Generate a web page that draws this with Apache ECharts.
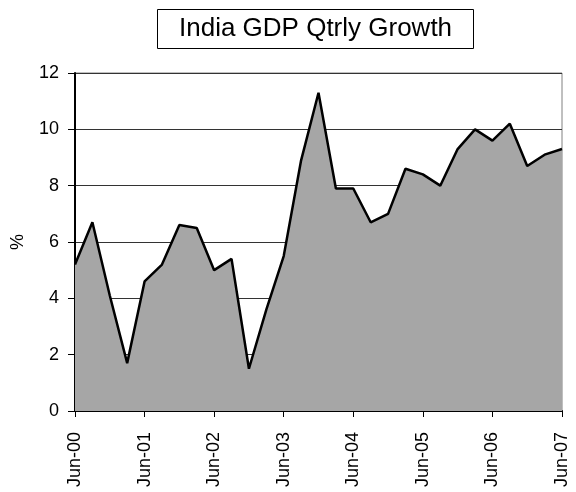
<!DOCTYPE html>
<html>
<head>
<meta charset="utf-8">
<script src="https://cdn.jsdelivr.net/npm/echarts@6/dist/echarts.min.js"></script>
<style>
  html, body { margin: 0; padding: 0; background: #fff; }
  #chart { width: 576px; height: 492px; }
</style>
</head>
<body>
<div id="chart"></div>
<script>
// Quarterly periods, Jun-2000 to Jun-2007
const quarters = [
  'Jun-00', 'Sep-00', 'Dec-00', 'Mar-01',
  'Jun-01', 'Sep-01', 'Dec-01', 'Mar-02',
  'Jun-02', 'Sep-02', 'Dec-02', 'Mar-03',
  'Jun-03', 'Sep-03', 'Dec-03', 'Mar-04',
  'Jun-04', 'Sep-04', 'Dec-04', 'Mar-05',
  'Jun-05', 'Sep-05', 'Dec-05', 'Mar-06',
  'Jun-06', 'Sep-06', 'Dec-06', 'Mar-07',
  'Jun-07'
];

// Year-on-year GDP growth, %
const growth = [
  5.2, 6.7, 4.1, 1.7,
  4.6, 5.2, 6.6, 6.5,
  5.0, 5.4, 1.5, 3.6,
  5.5, 8.9, 11.3, 7.9,
  7.9, 6.7, 7.0, 8.6,
  8.4, 8.0, 9.3, 10.0,
  9.6, 10.2, 8.7, 9.1,
  9.3
];

const yTicks = { min: 0, max: 12, interval: 2 };

const chart = echarts.init(document.getElementById('chart'), null, { renderer: 'canvas' });

const font = 'Liberation Sans, Arial, sans-serif';

chart.setOption({
  animation: false,
  backgroundColor: '#ffffff',
  title: {
    text: 'India GDP Qtrly Growth',
    left: 157,
    top: 9,
    padding: [7, 22, 7, 22],
    borderColor: '#000',
    borderWidth: 1,
    textStyle: { fontFamily: font, fontSize: 26, fontWeight: 'normal', color: '#000' }
  },
  grid: {
    left: 75, right: 14, top: 73, bottom: 81,
    show: true,
    borderColor: '#808080',
    borderWidth: 1,
    backgroundColor: 'transparent'
  },
  xAxis: {
    type: 'category',
    data: quarters,
    boundaryGap: false,
    axisLine: { lineStyle: { color: '#000', width: 2 } },
    axisTick: { show: true, interval: 3, length: 6, lineStyle: { color: '#000', width: 1 } },
    axisLabel: {
      interval: 3,
      rotate: 90,
      margin: 21,
      color: '#000',
      fontFamily: font,
      fontSize: 18
    },
    splitLine: { show: false }
  },
  yAxis: {
    type: 'value',
    min: yTicks.min,
    max: yTicks.max,
    interval: yTicks.interval,
    name: '%',
    nameLocation: 'middle',
    nameRotate: 90,
    nameGap: 48,
    nameTextStyle: { fontFamily: font, fontSize: 18, color: '#000' },
    axisLine: { show: true, lineStyle: { color: '#000', width: 2 } },
    axisTick: { show: true, length: 7, lineStyle: { color: '#000', width: 1 } },
    axisLabel: { margin: 16, color: '#000', fontFamily: font, fontSize: 18 },
    splitLine: { show: true, lineStyle: { color: '#333', width: 1 } }
  },
  series: [{
    type: 'line',
    data: growth,
    symbol: 'none',
    lineStyle: { color: '#000', width: 2.5 },
    areaStyle: { color: '#a6a6a6', opacity: 1 },
    z: 2
  }]
});
</script>
</body>
</html>
